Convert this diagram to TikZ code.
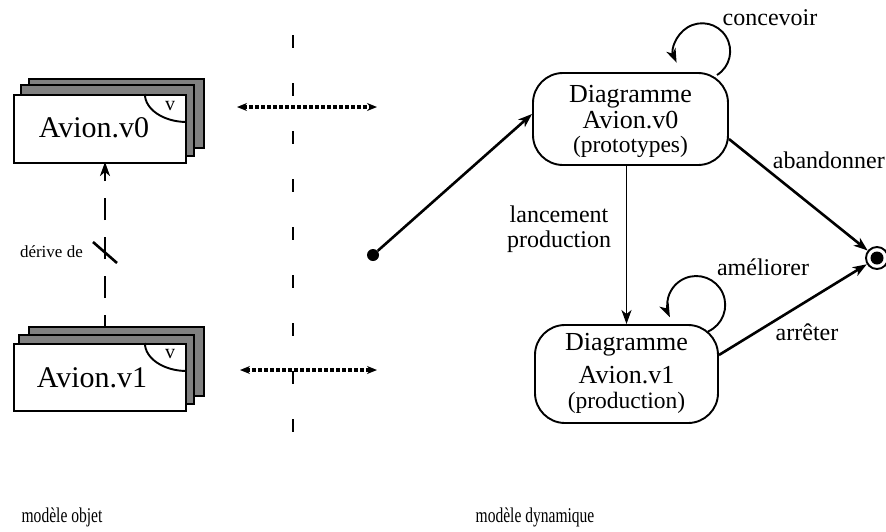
\documentclass[tikz,border=0pt]{standalone}
\usepackage{fontspec}
\setmainfont{Liberation Serif}
\usetikzlibrary{arrows.meta}
\begin{document}
\begin{tikzpicture}[x=1pt,y=-1pt,
  state/.style={draw, line width=1.9pt, rounded corners=30pt, inner sep=0pt},
  obj/.style={draw, line width=1.9pt, inner sep=0pt, anchor=north west},
  shade/.style={fill=black!50},
  lbl/.style={font=\fontsize{24}{28}\selectfont, anchor=base, inner sep=0pt},
  big/.style={font=\fontsize{26}{30}\selectfont, anchor=base, inner sep=0pt},
  par/.style={font=\fontsize{23.5}{28}\selectfont, anchor=base, inner sep=0pt},
  boxtxt/.style={font=\fontsize{30}{32}\selectfont, anchor=base, inner sep=0pt},
  small/.style={font=\fontsize{21}{23}\selectfont, anchor=base, inner sep=0pt, xscale=0.74},
  arr/.style={line width=2.6pt, -{Stealth[length=14pt,width=10pt,inset=4pt]}},
  thinarr/.style={line width=1.9pt, -{Stealth[length=14pt,width=10pt,inset=4pt]}},
  sep/.style={line width=1.8pt, dash pattern=on 13pt off 35pt},
  link/.style={line width=3.2pt, dash pattern=on 4pt off 2pt,
     {Stealth[length=10pt,width=8pt]}-{Stealth[length=10pt,width=8pt]}},
  dep/.style={line width=2.2pt, dash pattern=on 22pt off 17pt, dash phase=11pt,
     -{Stealth[length=14pt,width=10pt,inset=4pt]}}
]
\useasboundingbox (0,0) rectangle (886,531);

% ---------- object model ----------
\node[obj, shade, minimum width=175pt, minimum height=69pt] (v0b) at (28,78) {};
\node[obj, shade, minimum width=173pt, minimum height=71pt] (v0m) at (20,84) {};
\node[obj, fill=white, minimum width=172pt, minimum height=68pt] (v0f) at (13,94) {};
\draw[line width=1.9pt] ([xshift=-42pt]v0f.north east) arc[start angle=180, end angle=90, x radius=42, y radius=28];
\node[font=\fontsize{20}{22}\selectfont, anchor=base, inner sep=0pt] (v0v) at (170,110) {v};
\node[boxtxt] (v0t) at (94,137) {Avion.v0};

\node[obj, shade, minimum width=175pt, minimum height=69pt] (v1b) at (28,326) {};
\node[obj, shade, minimum width=175pt, minimum height=69pt] (v1m) at (18,334) {};
\node[obj, fill=white, minimum width=172pt, minimum height=67pt] (v1f) at (13,343) {};
\draw[line width=1.9pt] ([xshift=-42pt]v1f.north east) arc[start angle=180, end angle=90, x radius=42, y radius=28];
\node[font=\fontsize{20}{22}\selectfont, anchor=base, inner sep=0pt] (v1v) at (170,358) {v};
\node[boxtxt] (v1t) at (92,387) {Avion.v1};

\coordinate (dlo) at (105,326);
\coordinate (dhi) at (105,162);
\draw[dep] (dlo) -- (dhi);
\coordinate (sl1) at (93,242);
\coordinate (sl2) at (117,263);
\draw[line width=2.6pt] (sl1) -- (sl2);
\node[font=\fontsize{17}{19}\selectfont, anchor=base east, inner sep=0pt] (der) at (83,257) {dérive de};

% ---------- separator ----------
\coordinate (sepT) at (293,35);
\coordinate (sepB) at (293,440);
\draw[sep] (sepT) -- (sepB);
\coordinate (h1a) at (237,107);
\coordinate (h1b) at (377,107);
\draw[link] (h1a) -- (h1b);
\coordinate (h2a) at (240,370);
\coordinate (h2b) at (377,370);
\draw[link] (h2a) -- (h2b);

% ---------- dynamic model ----------
\node[state, minimum width=195pt, minimum height=92pt] (s0) at (630.5,119) {};
\node[big] (s0a) at (630.5,102) {Diagramme};
\node[big] (s0b) at (630.5,128) {Avion.v0};
\node[par] (s0c) at (630.5,152) {(prototypes)};

\node[state, minimum width=183pt, minimum height=98pt] (s1) at (626.5,374) {};
\node[big] (s1a) at (626.5,350) {Diagramme};
\node[big] (s1b) at (626.5,383) {Avion.v1};
\node[par] (s1c) at (626.5,408) {(production)};

\node[circle, fill, minimum size=12pt, inner sep=0pt] (init) at (373,255) {};
\node[circle, draw, line width=1.9pt, minimum size=22pt, inner sep=0pt] (fin) at (877,258) {};
\fill (fin.center) circle (6.5);

\draw[arr] (init) -- ([yshift=5pt]s0.west);
\draw[thinarr] (s0.south -| s1.north) -- (s1.north);
\draw[arr] ([yshift=-20pt]s0.east) -- (fin);
\draw[arr] ([yshift=19pt]s1.east) -- (fin);

\coordinate (c0) at (717,75);
\draw[thinarr] (c0) arc[start angle=58, end angle=-204, radius=28];
\coordinate (c1) at (708,331.5);
\draw[thinarr] (c1) arc[start angle=66, end angle=-205, radius=29];

\node[lbl] (lconc) at (770,25) {concevoir};
\node[lbl, anchor=base east] (laban) at (885,168) {abandonner};
\node[lbl] (llan1) at (559,222) {lancement};
\node[lbl] (llan2) at (559,247) {production};
\node[lbl] (lame) at (763,275) {améliorer};
\node[lbl] (larr) at (807,340) {arrêter};

\node[small] (mobj) at (62,522) {modèle objet};
\node[small] (mdyn) at (535,522) {modèle dynamique};
\end{tikzpicture}
\end{document}
